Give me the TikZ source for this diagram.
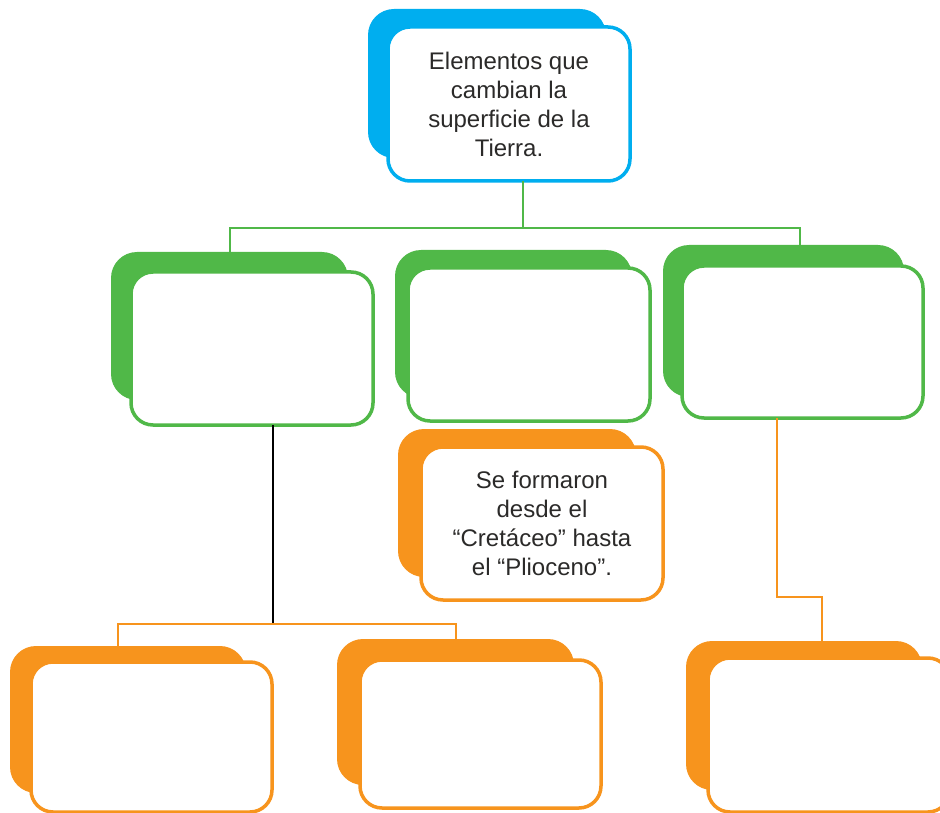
\documentclass[tikz,border=0pt]{standalone}
\usepackage{fontspec}
\setmainfont{Liberation Sans}
\definecolor{cblue}{HTML}{00AEEF}
\definecolor{cgreen}{HTML}{50B848}
\definecolor{corange}{HTML}{F7941D}
\definecolor{ctext}{HTML}{2B2A29}
\tikzset{
  frontbox/.style={draw=#1, fill=white, line width=3.5pt, rounded corners=22pt, inner sep=0pt, outer sep=0pt},
  backbox/.style={fill=#1, draw=none, rounded corners=26pt, inner sep=0pt, outer sep=0pt},
  gline/.style={draw=cgreen, line width=2pt},
  oline/.style={draw=corange, line width=2pt},
  kline/.style={draw=black, line width=1.1pt},
  boxtext/.style={text=ctext, align=center, font=\fontsize{24}{29}\selectfont}
}
\begin{document}
\begin{tikzpicture}[x=1pt,y=-1pt]
\useasboundingbox (0,0) rectangle (940,813);
% back shapes
\node[backbox=cblue,   minimum width=238pt, minimum height=149pt] (tops) at (487,83.5) {};
\node[backbox=cgreen,  minimum width=237pt, minimum height=148pt] (g1s) at (229.5,326) {};
\node[backbox=cgreen,  minimum width=237pt, minimum height=148pt] (g2s) at (513.5,324) {};
\node[backbox=cgreen,  minimum width=241pt, minimum height=152pt] (g3s) at (783.5,321) {};
\node[backbox=corange, minimum width=238pt, minimum height=148pt] (os) at (517,503) {};
\node[backbox=corange, minimum width=236pt, minimum height=147pt] (b1s) at (128,719.5) {};
\node[backbox=corange, minimum width=237pt, minimum height=146pt] (b2s) at (455.5,712) {};
\node[backbox=corange, minimum width=236pt, minimum height=149pt] (b3s) at (804,715.5) {};
% front boxes
\node[frontbox=cblue, minimum width=242pt, minimum height=154pt, boxtext] (top) at (509,104)
  {Elementos que\\cambian la\\superficie de la\\Tierra.};
\node[frontbox=cgreen, minimum width=242pt, minimum height=153pt] (g1) at (252,348.5) {};
\node[frontbox=cgreen, minimum width=242pt, minimum height=153pt] (g2) at (529,344.5) {};
\node[frontbox=cgreen, minimum width=241pt, minimum height=152pt] (g3) at (802.5,342) {};
\node[frontbox=corange, minimum width=242pt, minimum height=153pt, boxtext] (ot) at (542,523.5)
  {Se formaron\\desde el\\“Cretáceo” hasta\\el “Plioceno”.};
\node[frontbox=corange, minimum width=241pt, minimum height=150pt] (b1) at (151.5,737) {};
\node[frontbox=corange, minimum width=241pt, minimum height=148pt] (b2) at (480.5,734) {};
\node[frontbox=corange, minimum width=242pt, minimum height=154pt] (b3) at (829,735) {};
% helper coordinates
\coordinate (xt) at (523,0);
\coordinate (ya) at (0,228);
\coordinate (xr) at (800,0);
\coordinate (xk) at (273,0);
\coordinate (yb) at (0,624);
\coordinate (xl) at (118,0);
\coordinate (xg) at (777,0);
\coordinate (yc) at (0,597);
\coordinate (xh) at (822,0);
% green connectors
\draw[gline] (xt |- top.south) -- (xt |- ya);
\draw[gline] (g1s.north) -- (g1s.north |- ya) -- (xr |- ya) -- (xr |- g3s.north);
% black + orange to bottom left boxes
\draw[kline] (xk |- g1.south) -- (xk |- yb);
\draw[oline] (xl |- b1s.north) -- (xl |- yb) -- (b2s.north |- yb) -- (b2s.north);
% right orange connector
\draw[oline] (xg |- g3.south) -- (xg |- yc) -- (xh |- yc) -- (xh |- b3s.north);
\end{tikzpicture}
\end{document}
